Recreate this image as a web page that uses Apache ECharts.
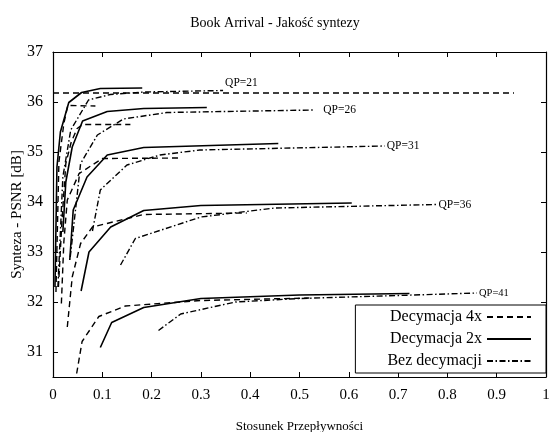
<!DOCTYPE html>
<html>
<head>
<meta charset="utf-8">
<script src="https://cdn.jsdelivr.net/npm/echarts@6/dist/echarts.min.js"></script>
<style>html,body{margin:0;padding:0;background:#fff}#c{width:550px;height:432px}</style>
</head>
<body>
<div id="c"></div>
<script>
// ---- data (x = Stosunek Przepływności, y = PSNR [dB]) ----
const qpNames = ['QP=21', 'QP=26', 'QP=31', 'QP=36', 'QP=41'];
const xTicks = [0, 0.1, 0.2, 0.3, 0.4, 0.5, 0.6, 0.7, 0.8, 0.9, 1];
const yTicks = [31, 32, 33, 34, 35, 36, 37];

// Decymacja 4x
const dec4_qp21 = [[0.006,32.2],[0.012,34.8],[0.022,35.57],[0.03,35.93],[0.086,35.92]];
const dec4_ref  = [[0,36.18],[0.935,36.18]];
const dec4_qp26 = [[0.011,32.3],[0.018,33.6],[0.026,34.77],[0.037,35.2],[0.049,35.47],[0.06,35.55],[0.157,35.55]];
const dec4_qp31 = [[0.017,31.97],[0.022,33.2],[0.029,34.04],[0.053,34.57],[0.1,34.87],[0.258,34.88]];
const dec4_qp36 = [[0.029,31.5],[0.039,32.5],[0.056,33.17],[0.08,33.5],[0.184,33.75],[0.393,33.78]];
const dec4_qp41 = [[0.048,30.57],[0.059,31.21],[0.093,31.71],[0.147,31.92],[0.3,32.03],[0.52,32.08]];

// Decymacja 2x
const dec2_qp21 = [[0.004,32.3],[0.008,34.7],[0.015,35.4],[0.032,35.99],[0.058,36.19],[0.096,36.27],[0.181,36.28]];
const dec2_qp26 = [[0.02,33.4],[0.026,34.4],[0.039,35.1],[0.06,35.62],[0.11,35.81],[0.184,35.87],[0.312,35.89]];
const dec2_qp31 = [[0.034,32.84],[0.041,33.84],[0.069,34.5],[0.11,34.94],[0.184,35.09],[0.457,35.17]];
const dec2_qp36 = [[0.057,32.22],[0.073,33.0],[0.117,33.5],[0.184,33.83],[0.3,33.93],[0.606,33.98]];
const dec2_qp41 = [[0.096,31.09],[0.119,31.59],[0.184,31.89],[0.3,32.07],[0.5,32.14],[0.723,32.17]];

// Bez decymacji
const bez_qp21 = [[0.01,32.3],[0.02,34.5],[0.036,35.44],[0.072,36.04],[0.116,36.15],[0.184,36.2],[0.345,36.23]];
const bez_qp26 = [[0.035,32.9],[0.049,34.14],[0.056,34.77],[0.09,35.34],[0.143,35.66],[0.231,35.79],[0.528,35.84]];
const bez_qp31 = [[0.08,33.42],[0.096,34.24],[0.15,34.74],[0.217,34.94],[0.298,35.04],[0.673,35.12]];
const bez_qp36 = [[0.137,32.74],[0.167,33.27],[0.3,33.7],[0.45,33.88],[0.78,33.95]];
const bez_qp41 = [[0.214,31.43],[0.259,31.76],[0.37,32.0],[0.5,32.07],[0.7,32.13],[0.86,32.18]];

const legendNames = ['Decymacja 4x', 'Decymacja 2x', 'Bez decymacji'];

// ---- chart ----
const FONT = "'Liberation Serif', 'Times New Roman', serif";
const dashStyle = {type: [6, 4], width: 1.4, color: '#000'};
const solidStyle = {type: 'solid', width: 1.6, color: '#000'};
const dashDotStyle = {type: [6, 2.5, 1.5, 2.5], width: 1.4, color: '#000'};

function mk(name, data, ls, label, labelOpts) {
  const s = {
    name: name, type: 'line', data: data, symbol: 'none', showSymbol: false, smooth: false,
    lineStyle: ls, itemStyle: {color: '#000'}, z: 3, animation: false,
    emphasis: {disabled: true}
  };
  if (label) {
    s.endLabel = Object.assign({
      show: true, formatter: label, color: '#000', fontFamily: FONT, fontSize: 11.5
    }, labelOpts || {});
  }
  return s;
}

const series = [
  mk(legendNames[0], dec4_qp21, dashStyle),
  mk(legendNames[0], dec4_ref, dashStyle),
  mk(legendNames[0], dec4_qp26, dashStyle),
  mk(legendNames[0], dec4_qp31, dashStyle),
  mk(legendNames[0], dec4_qp36, dashStyle),
  mk(legendNames[0], dec4_qp41, dashStyle),
  mk(legendNames[1], dec2_qp21, solidStyle),
  mk(legendNames[1], dec2_qp26, solidStyle),
  mk(legendNames[1], dec2_qp31, solidStyle),
  mk(legendNames[1], dec2_qp36, solidStyle),
  mk(legendNames[1], dec2_qp41, solidStyle),
  mk(legendNames[2], bez_qp21, dashDotStyle, qpNames[0], {distance: 2, offset: [0, -8]}),
  mk(legendNames[2], bez_qp26, dashDotStyle, qpNames[1], {distance: 10}),
  mk(legendNames[2], bez_qp31, dashDotStyle, qpNames[2], {distance: 2}),
  mk(legendNames[2], bez_qp36, dashDotStyle, qpNames[3], {distance: 1}),
  mk(legendNames[2], bez_qp41, dashDotStyle, qpNames[4], {distance: 2, fontSize: 10.5})
];

const chart = echarts.init(document.getElementById('c'), null, {renderer: 'canvas'});
chart.setOption({
  animation: false,
  backgroundColor: '#fff',
  textStyle: {fontFamily: FONT, color: '#000'},
  title: {
    text: 'Book Arrival - Jakość syntezy', left: 'center', top: 11,
    textStyle: {fontFamily: FONT, fontSize: 14, fontWeight: 'normal', color: '#000'}
  },
  grid: {left: 53, right: 4, top: 52, bottom: 55, containLabel: false, outerBoundsMode: 'none'},
  legend: {
    data: legendNames, orient: 'vertical', right: 4, bottom: 59,
    align: 'right', itemWidth: 44, itemHeight: 12, itemGap: 6,
    padding: [4, 14, 4, 32],
    borderColor: '#000', borderWidth: 1, backgroundColor: '#fff',
    itemStyle: {opacity: 0},
    textStyle: {fontFamily: FONT, fontSize: 16, color: '#000'},
    selectedMode: false
  },
  xAxis: [{
    type: 'value', min: 0, max: 1, interval: 0.1,
    name: 'Stosunek Przepływności', nameLocation: 'middle', nameGap: 43, nameMoveOverlap: false,
    nameTextStyle: {fontFamily: FONT, fontSize: 13, color: '#000'},
    axisLine: {show: true, onZero: false, lineStyle: {color: '#000', width: 1.2}},
    axisTick: {show: true, inside: true, length: 5, lineStyle: {color: '#000'}},
    axisLabel: {fontFamily: FONT, fontSize: 15, color: '#000', margin: 11,
      customValues: xTicks, formatter: v => String(Math.round(v * 10) / 10)},
    splitLine: {show: false}
  }, {
    type: 'value', min: 0, max: 1, interval: 0.1, position: 'top',
    axisLine: {show: true, onZero: false, lineStyle: {color: '#000', width: 1.2}},
    axisTick: {show: true, inside: true, length: 5, lineStyle: {color: '#000'}},
    axisLabel: {show: false}, splitLine: {show: false}
  }],
  yAxis: [{
    type: 'value', min: 30.5, max: 37,
    name: 'Synteza - PSNR [dB]', nameLocation: 'middle', nameGap: 28, nameRotate: 90, nameMoveOverlap: false,
    nameTextStyle: {fontFamily: FONT, fontSize: 15, color: '#000'},
    axisLine: {show: true, onZero: false, lineStyle: {color: '#000', width: 1.2}},
    axisTick: {show: true, inside: true, length: 5, customValues: yTicks, lineStyle: {color: '#000'}},
    axisLabel: {fontFamily: FONT, fontSize: 16, color: '#000', margin: 10, customValues: yTicks},
    splitLine: {show: false}
  }, {
    type: 'value', min: 30.5, max: 37, position: 'right',
    axisLine: {show: true, onZero: false, lineStyle: {color: '#000', width: 1.2}},
    axisTick: {show: true, inside: true, length: 5, customValues: yTicks, lineStyle: {color: '#000'}},
    axisLabel: {show: false}, splitLine: {show: false}
  }],
  series: series
});
</script>
</body>
</html>
